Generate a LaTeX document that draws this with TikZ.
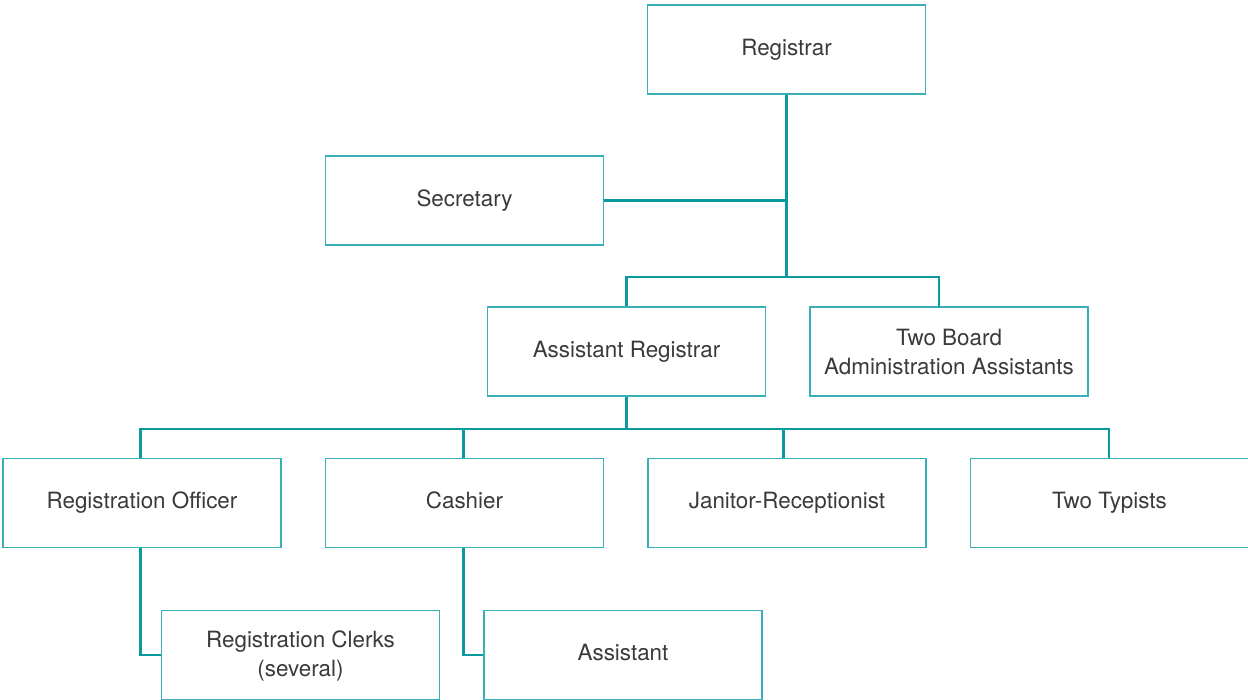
\documentclass[tikz,border=0pt]{standalone}
\usepackage{fontspec}
\setmainfont{TeX Gyre Heros}
\definecolor{tealline}{HTML}{0A98A1}
\definecolor{tealbox}{HTML}{3AAFB8}
\definecolor{txtgray}{HTML}{3A3A3A}
\begin{document}
\begin{tikzpicture}[x=1pt,y=-1pt,
  box/.style={draw=tealbox, line width=1.3pt, fill=white, minimum width=278pt, minimum height=89pt, inner sep=0pt, align=center, text=txtgray, font=\fontsize{22.4}{29}\selectfont, execute at begin node=\strut},
  link/.style={draw=tealline, line width=2.6pt}]
\useasboundingbox (0,0) rectangle (1248,700);
\node[box] (reg) at (786.5,49.5){Registrar};
\node[box] (sec) at (464.5,200.5){Secretary};
\node[box] (areg) at (626.5,351.5){Assistant Registrar};
\node[box] (board) at (949,351.5){\rule{0pt}{26.5pt}Two Board\\Administration Assistants};
\node[box] (roff) at (142,503){Registration Officer};
\node[box] (cash) at (464.5,503){Cashier};
\node[box] (jan) at (787,503){Janitor-Receptionist};
\node[box] (typ) at (1109.5,503){Two Typists};
\node[box] (clerk) at (300.5,655){\rule{0pt}{22.5pt}Registration Clerks\\(several)};
\node[box] (asst) at (623,655){Assistant};
\coordinate (top) at (786.5,277);
\coordinate (bdrop) at (939,307);
\coordinate (mid) at (626,429);
\coordinate (rdrop) at (140.5,458.5);
\coordinate (cdrop) at (463.3,458.5);
\coordinate (jdrop) at (783.5,458.5);
\coordinate (tdrop) at (1109,458.5);
\draw[link] (reg.south) -- (top);
\draw[link] (sec.east) -- (sec.east -| top);
\draw[link] (areg.north) |- (bdrop |- top) -- (bdrop);
\draw[link] (areg.south) -- (areg.south |- mid);
\draw[link] (rdrop) |- (tdrop |- mid) -- (tdrop);
\draw[link] (cdrop) -- (cdrop |- mid);
\draw[link] (jdrop) -- (jdrop |- mid);
\draw[link] (rdrop |- roff.south) |- (clerk.west);
\draw[link] (cdrop |- cash.south) |- (asst.west);
\end{tikzpicture}
\end{document}
